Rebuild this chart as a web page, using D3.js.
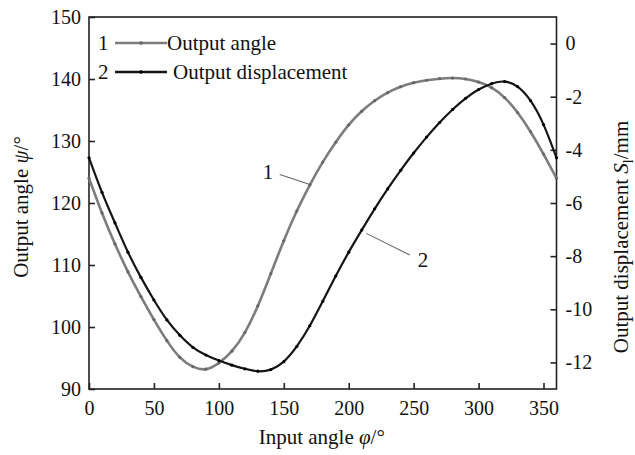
<!DOCTYPE html>
<html lang="en">
<head>
<meta charset="utf-8">
<title>Output angle and displacement</title>
<script src="https://cdn.jsdelivr.net/npm/d3@7"></script>
<style>
    body { margin: 0; background: #fff; }
    text { font-family: "Liberation Serif", "Times New Roman", serif; fill: #111; }
    .axis path, .axis line { stroke: #222; stroke-width: 1.6; }
    .axis text { font-size: 20px; }
</style>
</head>
<body>
<div id="chart"></div>
<script>
    // input angle (deg)
    const input_angle = [0, 10, 20, 30, 40, 50, 60, 70, 80, 90, 100, 110, 120, 130, 140, 150, 160, 170, 180,
        190, 200, 210, 220, 230, 240, 250, 260, 270, 280, 290, 300, 310, 320, 330, 340, 350, 360];
    // curve 1: output angle psi (deg), left axis
    const output_angle = [124.0, 118.4, 113.4, 108.9, 104.9, 101.2, 97.8, 95.1, 93.6, 93.2, 94.2, 96.1, 99.1,
        103.4, 108.6, 113.9, 118.7, 122.9, 126.6, 129.8, 132.6, 134.8, 136.5, 137.8, 138.75, 139.4, 139.8,
        140.05, 140.15, 140.0, 139.5, 138.6, 137.0, 134.6, 131.5, 127.9, 124.0];
    // curve 2: output displacement S (mm), right axis
    const output_disp = [-4.3, -5.6, -6.75, -7.85, -8.8, -9.65, -10.4, -10.98, -11.43, -11.72, -11.93, -12.1,
        -12.24, -12.33, -12.27, -11.97, -11.4, -10.62, -9.7, -8.75, -7.85, -7.02, -6.22, -5.47, -4.77, -4.12,
        -3.52, -2.97, -2.48, -2.06, -1.73, -1.51, -1.43, -1.62, -2.15, -3.05, -4.3];

    const x_ticks = [0, 50, 100, 150, 200, 250, 300, 350];
    const left_ticks = [90, 100, 110, 120, 130, 140, 150];
    const right_ticks = [-12, -10, -8, -6, -4, -2, 0];

    const series_names = ['Output angle', 'Output displacement'];
    const series_colors = ['#7d7d7d', '#151515'];

    const width = 635, height = 455,
        margins = {top: 17, right: 78.5, bottom: 66, left: 89},
        inner = {width: width - margins.left - margins.right, height: height - margins.top - margins.bottom};

    const svg = d3.select('#chart').append('svg')
        .attr('width', width)
        .attr('height', height);

    const chart = svg.append('g')
        .attr('transform', `translate(${margins.left}, ${margins.top})`);

    const x = d3.scaleLinear().domain([0, 360]).range([0, inner.width]);
    const y_left = d3.scaleLinear().domain([90, 150]).range([inner.height, 0]);
    const y_right = d3.scaleLinear().domain([-13, 1]).range([inner.height, 0]);

    // frame
    chart.append('rect')
        .attr('width', inner.width)
        .attr('height', inner.height)
        .attr('fill', 'none')
        .attr('stroke', '#222')
        .attr('stroke-width', 1.6);

    // axes, ticks point inward; plain hyphen for negatives like the original
    const plain = d => String(d);

    chart.append('g')
        .attr('class', 'x axis')
        .attr('transform', `translate(0, ${inner.height})`)
        .call(d3.axisBottom(x).tickValues(x_ticks).tickFormat(plain)
            .tickSizeInner(-6).tickSizeOuter(0).tickPadding(12));

    chart.append('g')
        .attr('class', 'y axis')
        .call(d3.axisLeft(y_left).tickValues(left_ticks).tickFormat(plain)
            .tickSizeInner(-6).tickSizeOuter(0).tickPadding(8));

    chart.append('g')
        .attr('class', 'y2 axis')
        .attr('transform', `translate(${inner.width}, 0)`)
        .call(d3.axisRight(y_right).tickValues(right_ticks).tickFormat(plain)
            .tickSizeInner(-6).tickSizeOuter(0).tickPadding(9));

    chart.selectAll('.axis .domain').remove();

    // curves
    const rows1 = input_angle.map((a, i) => ({a, v: output_angle[i]}));
    const rows2 = input_angle.map((a, i) => ({a, v: output_disp[i]}));

    const line1 = d3.line().x(d => x(d.a)).y(d => y_left(d.v)).curve(d3.curveNatural);
    const line2 = d3.line().x(d => x(d.a)).y(d => y_right(d.v)).curve(d3.curveNatural);

    chart.append('path')
        .attr('d', line1(rows1))
        .attr('fill', 'none')
        .attr('stroke', series_colors[0])
        .attr('stroke-width', 2.6);

    chart.append('path')
        .attr('d', line2(rows2))
        .attr('fill', 'none')
        .attr('stroke', series_colors[1])
        .attr('stroke-width', 2.2);

    chart.append('g').selectAll('circle')
        .data(rows1)
        .join('circle')
            .attr('cx', d => x(d.a))
            .attr('cy', d => y_left(d.v))
            .attr('r', 1.6)
            .attr('fill', '#666');

    chart.append('g').selectAll('circle')
        .data(rows2)
        .join('circle')
            .attr('cx', d => x(d.a))
            .attr('cy', d => y_right(d.v))
            .attr('r', 1.6)
            .attr('fill', '#000');

    // leader labels (in data units of the left axis)
    const leaders = [
        {label: '1', at: [137.8, 125.0], from: [146.9, 124.6], to: [171.3, 122.9]},
        {label: '2', at: [257.2, 110.8], from: [247, 111.6], to: [213.6, 115.1]}
    ];
    leaders.forEach(l => {
        chart.append('line')
            .attr('x1', x(l.from[0])).attr('y1', y_left(l.from[1]))
            .attr('x2', x(l.to[0])).attr('y2', y_left(l.to[1]))
            .attr('stroke', '#666')
            .attr('stroke-width', 1.1);
        chart.append('text')
            .attr('x', x(l.at[0])).attr('y', y_left(l.at[1]))
            .attr('text-anchor', 'middle')
            .attr('dy', '0.35em')
            .attr('font-size', 21)
            .text(l.label);
    });

    // legend
    const legend = chart.append('g');
    series_names.forEach((name, i) => {
        const row = legend.append('g').attr('transform', `translate(0, ${26 + i * 29})`);
        row.append('text').attr('x', 9).attr('y', 7).attr('font-size', 21).text(i + 1);
        row.append('line')
            .attr('x1', 26).attr('x2', 78)
            .attr('stroke', series_colors[i])
            .attr('stroke-width', 2.4);
        row.append('circle').attr('cx', 52).attr('r', 1.8).attr('fill', i ? '#000' : '#666');
        row.append('text')
            .attr('x', i ? 84 : 78).attr('y', 7)
            .attr('font-size', 21)
            .text(name);
    });

    // axis titles
    svg.append('text')
        .attr('x', margins.left + inner.width / 2 - 1)
        .attr('y', 444)
        .attr('text-anchor', 'middle')
        .attr('font-size', 21)
        .html('Input angle <tspan font-style="italic">φ</tspan>/°');

    svg.append('text')
        .attr('transform', `translate(28, ${margins.top + 190}) rotate(-90)`)
        .attr('text-anchor', 'middle')
        .attr('font-size', 21)
        .html('Output angle <tspan font-style="italic">ψ</tspan>/°');

    svg.append('text')
        .attr('transform', `translate(628, ${margins.top + 220}) rotate(-90)`)
        .attr('text-anchor', 'middle')
        .attr('font-size', 21)
        .html('Output displacement <tspan font-style="italic">S</tspan><tspan font-size="14" dy="5">l</tspan><tspan dy="-5">/mm</tspan>');
</script>
</body>
</html>
